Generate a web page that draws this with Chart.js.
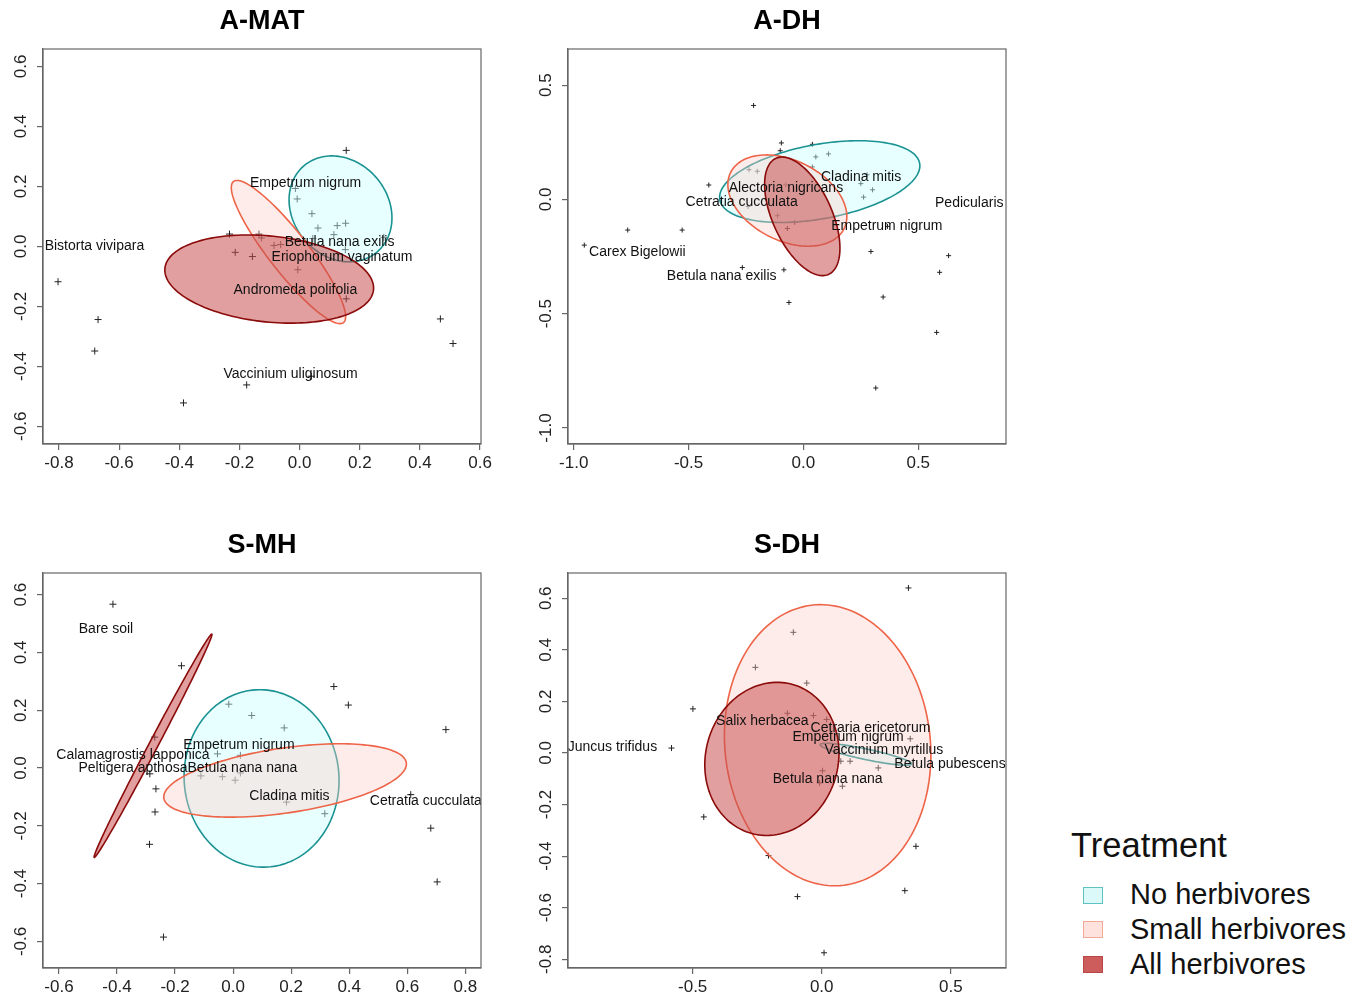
<!DOCTYPE html>
<html>
<head>
<meta charset="utf-8">
<script src="https://cdn.jsdelivr.net/npm/chart.js@4.4.0/dist/chart.umd.min.js"></script>
<style>
  body { margin: 0; background: #fff; width: 1363px; height: 997px; position: relative; overflow: hidden;
         font-family: "Liberation Sans", Arial, sans-serif; }
  .panel { position: absolute; }
  .lg { position: absolute; color: #111; line-height: 1; white-space: nowrap; }
  .sw { position: absolute; width: 20px; height: 17px; box-sizing: border-box; border: 1.5px solid; }
</style>
</head>
<body>
<div class="panel" style="left:0px;top:0px"><canvas id="amat" width="501" height="490"></canvas></div>
<div class="panel" style="left:525px;top:0px"><canvas id="adh" width="501" height="490"></canvas></div>
<div class="panel" style="left:0px;top:524px"><canvas id="smh" width="501" height="490"></canvas></div>
<div class="panel" style="left:525px;top:524px"><canvas id="sdh" width="501" height="490"></canvas></div>

<div class="lg" style="left:1071px;top:828px;font-size:34.5px">Treatment</div>
<div class="sw" style="left:1083px;top:887px;background:#dcf9f9;border-color:#5fc2c2"></div>
<div class="sw" style="left:1083px;top:921px;background:#fde2de;border-color:#f2a797"></div>
<div class="sw" style="left:1083px;top:956px;background:#cd5c5c;border-color:#b84646"></div>
<div class="lg" style="left:1130px;top:880px;font-size:29px">No herbivores</div>
<div class="lg" style="left:1130px;top:915px;font-size:29px">Small herbivores</div>
<div class="lg" style="left:1130px;top:950px;font-size:29px">All herbivores</div>

<script>
// ---- A-MAT ----
const amatTicksX = [-0.8, -0.6, -0.4, -0.2, 0.0, 0.2, 0.4, 0.6];
const amatTicksY = [-0.6, -0.4, -0.2, 0.0, 0.2, 0.4, 0.6];
const amatSitesX = [0.155, -0.803, -0.670, -0.681, -0.386, -0.176, 0.468, 0.510, 0.039, -0.233, -0.135, -0.127,
                    -0.214, -0.157, -0.085, -0.063, -0.006, 0.155, -0.014, -0.008, 0.041, 0.061, 0.125, 0.153,
                    0.114, 0.044, 0.152, 0.280];
const amatSitesY = [0.320, -0.118, -0.244, -0.349, -0.522, -0.462, -0.242, -0.324, -0.433, 0.041, 0.041, 0.028,
                    -0.020, -0.034, 0.003, 0.006, -0.078, -0.175, 0.193, 0.158, 0.109, 0.061, 0.069, 0.077,
                    0.039, 0.026, -0.011, 0.030];
const amatSpecies = ['Empetrum nigrum', 'Bistorta vivipara', 'Betula nana exilis', 'Eriophorum vaginatum',
                     'Andromeda polifolia', 'Vaccinium uliginosum'];
const amatSpeciesX = [0.020, -0.682, 0.133, 0.141, -0.014, -0.030];
const amatSpeciesY = [0.211, 0.000, 0.013, -0.036, -0.147, -0.425];
// ellipse: centre x, centre y, half width, y offset of right end, vertical half axis
const amatEllNo = [0.136, 0.125, 0.171, -0.030, 0.174];
const amatEllSmall = [-0.037, -0.019, 0.190, -0.215, 0.104];
const amatEllAll = [-0.101, -0.109, 0.347, -0.030, 0.144];

// ---- A-DH ----
const adhTicksX = [-1.0, -0.5, 0.0, 0.5];
const adhTicksY = [-1.0, -0.5, 0.0, 0.5];
const adhSitesX = [-0.217, -0.096, -0.101, 0.039, 0.054, 0.109, -0.412, -0.201, -0.237, 0.039, -0.077, 0.250,
                   0.301, 0.262, 0.277, -0.241, -0.113, -0.038, -0.070, -0.765, -0.528, -0.954, -0.266, -0.085,
                   -0.063, 0.294, 0.366, 0.632, 0.593, 0.347, 0.580, 0.315];
const adhSitesY = [0.411, 0.247, 0.213, 0.241, 0.186, 0.199, 0.063, 0.123, 0.130, 0.142, 0.064, 0.069,
                   0.042, 0.010, 0.108, -0.031, -0.071, -0.100, -0.127, -0.134, -0.134, -0.200, -0.298, -0.308,
                   -0.451, -0.228, -0.118, -0.246, -0.319, -0.427, -0.582, -0.825];
const adhSpecies = ['Cladina mitis', 'Alectoria nigricans', 'Cetratia cucculata', 'Pedicularis',
                    'Empetrum nigrum', 'Carex Bigelowii', 'Betula nana exilis'];
const adhSpeciesX = [0.251, -0.076, -0.269, 0.722, 0.363, -0.723, -0.356];
const adhSpeciesY = [0.096, 0.048, -0.010, -0.016, -0.118, -0.232, -0.334];
const adhEllNo = [0.071, 0.078, 0.436, 0.069, 0.165];
const adhEllSmall = [-0.070, -0.005, 0.259, -0.070, 0.187];
const adhEllAll = [-0.005, -0.074, 0.164, -0.139, 0.219];

// ---- S-MH ----
const smhTicksX = [-0.6, -0.4, -0.2, 0.0, 0.2, 0.4, 0.6, 0.8];
const smhTicksY = [-0.6, -0.4, -0.2, 0.0, 0.2, 0.4, 0.6];
const smhSitesX = [-0.414, -0.178, 0.347, 0.397, 0.733, -0.015, 0.064, 0.176, -0.270, -0.054, 0.025, -0.287,
                   -0.111, -0.037, 0.007, 0.025, -0.266, -0.269, -0.288, -0.240, 0.316, 0.184, 0.612, 0.681, 0.703];
const smhSitesY = [0.567, 0.354, 0.282, 0.218, 0.133, 0.221, 0.182, 0.139, 0.107, 0.049, 0.044, -0.020,
                   -0.027, -0.030, -0.042, -0.017, -0.072, -0.152, -0.264, -0.585, -0.158, -0.118, -0.092, -0.208, -0.394];
const smhSpecies = ['Bare soil', 'Empetrum nigrum', 'Calamagrostis lapponica', 'Peltigera apthosa',
                    'Betula nana nana', 'Cladina mitis', 'Cetratia cucculata'];
const smhSpeciesX = [-0.438, 0.020, -0.345, -0.345, 0.032, 0.194, 0.664];
const smhSpeciesY = [0.479, 0.078, 0.044, 0.000, 0.000, -0.097, -0.115];
const smhEllNo = [0.098, -0.036, 0.267, -0.007, 0.307];
const smhEllSmall = [0.179, -0.043, 0.418, 0.057, 0.1135];
const smhEllAll = [-0.276, 0.077, 0.203, 0.385, 0.033];

// ---- S-DH ----
const sdhTicksX = [-0.5, 0.0, 0.5];
const sdhTicksY = [-0.8, -0.6, -0.4, -0.2, 0.0, 0.2, 0.4, 0.6];
const sdhSitesX = [0.336, -0.110, -0.257, -0.058, -0.499, -0.133, -0.032, 0.019, -0.582, 0.343, 0.074, 0.110,
                   0.219, 0.003, -0.008, 0.080, -0.457, -0.206, 0.365, 0.322, -0.094, 0.009];
const sdhSitesY = [0.640, 0.468, 0.332, 0.271, 0.171, 0.154, 0.145, 0.130, 0.019, 0.055, -0.032, -0.032,
                   -0.058, -0.069, -0.116, -0.129, -0.248, -0.398, -0.362, -0.534, -0.557, -0.775];
const sdhSpecies = ['Juncus trifidus', 'Salix herbacea', 'Cetraria ericetorum', 'Empetrum nigrum',
                    'Vaccinium myrtillus', 'Betula pubescens', 'Betula nana nana'];
const sdhSpeciesX = [-0.811, -0.230, 0.189, 0.102, 0.241, 0.497, 0.023];
const sdhSpeciesY = [0.022, 0.123, 0.097, 0.062, 0.010, -0.045, -0.100];
const sdhEllNo = [0.171, -0.005, 0.177, -0.037, 0.021];
const sdhEllSmall = [0.023, 0.030, 0.400, -0.037, 0.544];
const sdhEllAll = [-0.193, -0.023, 0.260, 0.023, 0.296];

// colours for No / Small / All herbivores
const groupFill = ['rgba(205,255,255,0.45)', 'rgba(250,205,196,0.38)', 'rgba(200,80,80,0.55)'];
const groupLine = ['#1b9292', '#ee6448', '#8b0a0a'];

const FONT = '"Liberation Sans", Arial, sans-serif';

// ellipses + species names, then the frame
const ordiPlugin = {
    id: 'ordi',
    afterDatasetsDraw(chart, args, opts) {
        const { ctx, chartArea: a } = chart;
        const sx = chart.scales.x, sy = chart.scales.y;
        ctx.save();
        ctx.beginPath();
        ctx.rect(a.left, a.top, a.right - a.left, a.bottom - a.top);
        ctx.clip();
        opts.ellipses.forEach((e, i) => {
            ctx.beginPath();
            for (let k = 0; k <= 160; k++) {
                const t = k / 160 * 2 * Math.PI;
                const px = sx.getPixelForValue(e[0] + e[2] * Math.cos(t));
                const py = sy.getPixelForValue(e[1] + e[3] * Math.cos(t) + e[4] * Math.sin(t));
                if (k === 0) ctx.moveTo(px, py); else ctx.lineTo(px, py);
            }
            ctx.closePath();
            ctx.fillStyle = groupFill[i];
            ctx.fill();
            ctx.strokeStyle = groupLine[i];
            ctx.lineWidth = 1.6;
            ctx.stroke();
        });
        ctx.font = '14px ' + FONT;
        ctx.fillStyle = '#111';
        ctx.textAlign = 'center';
        ctx.textBaseline = 'middle';
        opts.names.forEach((s, i) => {
            ctx.fillText(s, sx.getPixelForValue(opts.namesX[i]), sy.getPixelForValue(opts.namesY[i]));
        });
        ctx.restore();
    },
    afterDraw(chart) {
        const { ctx, chartArea: a } = chart;
        ctx.save();
        ctx.strokeStyle = '#666';
        ctx.lineWidth = 1.2;
        ctx.strokeRect(a.left, a.top, a.right - a.left, a.bottom - a.top);
        ctx.restore();
    }
};

function axis(range, ticks, vertical) {
    return {
        type: 'linear',
        min: range[0],
        max: range[1],
        afterBuildTicks: (scale) => { scale.ticks = ticks.map(v => ({ value: v })); },
        afterFit: (scale) => { if (vertical) scale.width = 43; else scale.height = 46; },
        grid: { drawOnChartArea: false, drawTicks: true, tickLength: 6, color: '#666', lineWidth: 1.2 },
        border: { display: true, color: '#666', width: 1.2 },
        ticks: {
            autoSkip: false,
            color: '#222',
            font: { family: FONT, size: 17 },
            padding: vertical ? 1 : 3,
            minRotation: vertical ? 90 : 0,
            maxRotation: vertical ? 90 : 0,
            crossAlign: vertical ? 'center' : 'near',
            callback: (v) => Number(v).toFixed(1)
        }
    };
}

function makePanel(id, title, xRange, yRange, ticksX, ticksY, sitesX, sitesY, ells, names, namesX, namesY, radius) {
    new Chart(document.getElementById(id), {
        type: 'scatter',
        data: {
            datasets: [{
                data: sitesX.map((x, i) => ({ x: x, y: sitesY[i] })),
                pointStyle: 'cross',
                pointRadius: radius,
                borderColor: '#222',
                borderWidth: 1,
                backgroundColor: '#222'
            }]
        },
        options: {
            responsive: false,
            animation: false,
            events: [],
            layout: { padding: { left: 0, right: 20, top: 0, bottom: 0 } },
            scales: { x: axis(xRange, ticksX, false), y: axis(yRange, ticksY, true) },
            plugins: {
                legend: { display: false },
                tooltip: { enabled: false },
                title: {
                    display: true,
                    text: title,
                    fullSize: false,
                    color: '#000',
                    font: { family: FONT, size: 27, weight: 'bold', lineHeight: 1.2 },
                    padding: { top: 5.5, bottom: 11.1 }
                },
                ordi: { ellipses: ells, names: names, namesX: namesX, namesY: namesY }
            }
        },
        plugins: [ordiPlugin]
    });
}

makePanel('amat', 'A-MAT', [-0.853, 0.603], [-0.659, 0.658], amatTicksX, amatTicksY, amatSitesX, amatSitesY,
          [amatEllNo, amatEllSmall, amatEllAll], amatSpecies, amatSpeciesX, amatSpeciesY, 3.5);
makePanel('adh', 'A-DH', [-1.025, 0.882], [-1.070, 0.658], adhTicksX, adhTicksY, adhSitesX, adhSitesY,
          [adhEllNo, adhEllSmall, adhEllAll], adhSpecies, adhSpeciesX, adhSpeciesY, 2.5);
makePanel('smh', 'S-MH', [-0.655, 0.854], [-0.692, 0.675], smhTicksX, smhTicksY, smhSitesX, smhSitesY,
          [smhEllNo, smhEllSmall, smhEllAll], smhSpecies, smhSpeciesX, smhSpeciesY, 3.5);
makePanel('sdh', 'S-DH', [-0.983, 0.714], [-0.834, 0.698], sdhTicksX, sdhTicksY, sdhSitesX, sdhSitesY,
          [sdhEllNo, sdhEllSmall, sdhEllAll], sdhSpecies, sdhSpeciesX, sdhSpeciesY, 3);
</script>
</body>
</html>
